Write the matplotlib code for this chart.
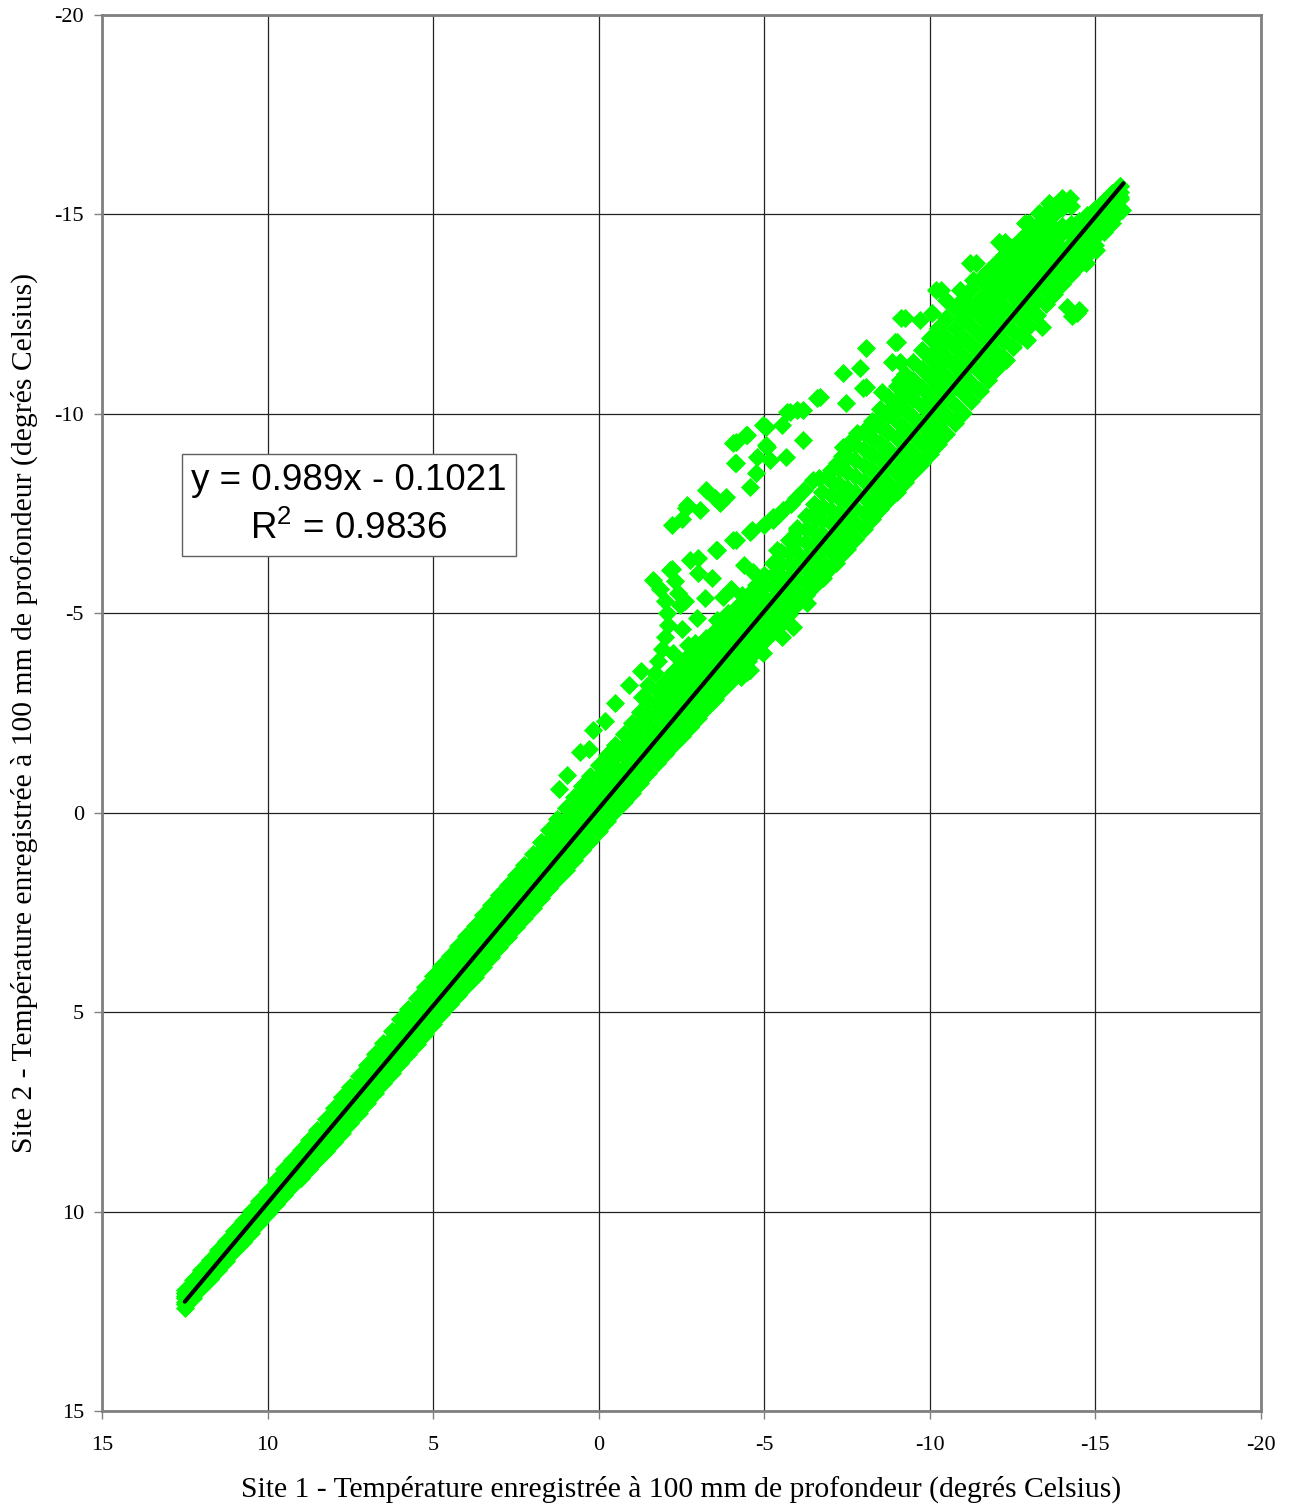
import matplotlib

matplotlib.use("Agg")
import matplotlib.pyplot as plt

plt.rcParams['font.family'] = ['Liberation Serif', 'DejaVu Serif']
plt.rcParams['mathtext.fontset'] = 'custom'
plt.rcParams['mathtext.rm'] = 'Liberation Sans'
plt.rcParams['mathtext.it'] = 'Liberation Sans:italic'

# Scatter: dense band read column by column, on two staggered x grids,
# seven rows across the band (k0 = upper edge ... k6 = lower edge)
xa = [12.5, 12.0, 11.5, 11.0, 10.5, 10.0, 9.5, 9.0, 8.5, 8.0, 7.5, 7.0, 6.5, 6.0,
      5.5, 5.0, 4.5, 4.0, 3.5, 3.0, 2.5, 2.0, 1.5, 1.0, 0.5, 0.0, -0.5, -1.0,
      -1.5, -2.0, -2.5, -3.0, -3.5, -4.0, -4.5, -5.0, -5.5, -6.0, -6.5, -7.0,
      -7.5, -8.0, -8.5, -9.0, -9.5, -10.0, -10.5, -11.0, -11.5, -12.0, -12.5,
      -13.0, -13.5, -14.0, -14.5, -15.0, -15.5]
ya_k0 = [11.96, 11.47, 10.97, 10.48, 9.98, 9.49, 8.94, 8.45, 7.95, 7.41, 6.87, 6.32,
         5.78, 5.18, 4.64, 4.09, 3.60, 3.10, 2.56, 2.06, 1.57, 1.03, 0.43, -0.11,
         -0.66, -1.20, -1.70, -2.24, -2.79, -3.28, -3.77, -4.17, -4.56, -4.96,
         -5.45, -5.95, -6.54, -7.14, -7.73, -8.32, -8.92, -9.51, -10.11, -10.70,
         -11.30, -11.89, -12.39, -12.88, -13.38, -13.77, -14.17, -14.56, -14.85,
         -15.15, -14.84, -15.14, -15.53]
ya_k1 = [12.03, 11.55, 11.05, 10.56, 10.08, 9.58, 9.07, 8.57, 8.07, 7.55, 7.02, 6.48,
         5.94, 5.38, 4.83, 4.31, 3.80, 3.30, 2.79, 2.29, 1.78, 1.24, 0.69, 0.15,
         -0.39, -0.92, -1.43, -1.95, -2.48, -2.98, -3.45, -3.88, -4.28, -4.71,
         -5.19, -5.69, -6.24, -6.82, -7.39, -7.97, -8.54, -9.12, -9.69, -10.27,
         -10.84, -11.40, -11.91, -12.41, -12.89, -13.33, -13.75, -14.15, -14.51,
         -14.71, -14.79, -15.01, -15.45]
ya_k2 = [12.11, 11.62, 11.14, 10.65, 10.16, 9.67, 9.16, 8.68, 8.20, 7.69, 7.17, 6.64,
         6.11, 5.55, 5.02, 4.49, 4.00, 3.52, 2.99, 2.49, 2.00, 1.48, 0.91, 0.41,
         -0.13, -0.65, -1.15, -1.66, -2.19, -2.68, -3.15, -3.57, -3.99, -4.41,
         -4.90, -5.40, -5.94, -6.51, -7.05, -7.60, -8.15, -8.71, -9.28, -9.82,
         -10.38, -10.92, -11.42, -11.93, -12.45, -12.89, -13.34, -13.78, -14.15,
         -14.52, -14.47, -14.84, -15.31]
ya_k3 = [12.18, 11.70, 11.22, 10.73, 10.26, 9.77, 9.28, 8.80, 8.33, 7.83, 7.32, 6.80,
         6.27, 5.74, 5.21, 4.70, 4.21, 3.72, 3.22, 2.72, 2.22, 1.70, 1.17, 0.66,
         0.15, -0.37, -0.88, -1.38, -1.88, -2.38, -2.84, -3.28, -3.71, -4.16,
         -4.64, -5.13, -5.65, -6.18, -6.71, -7.25, -7.78, -8.32, -8.86, -9.39,
         -9.92, -10.44, -10.94, -11.46, -11.97, -12.45, -12.92, -13.38, -13.80,
         -14.13, -14.37, -14.72, -15.19]
ya_k4 = [12.26, 11.77, 11.30, 10.81, 10.35, 9.86, 9.38, 8.92, 8.45, 7.98, 7.47, 6.95,
         6.45, 5.91, 5.41, 4.89, 4.40, 3.93, 3.43, 2.93, 2.44, 1.93, 1.40, 0.92,
         0.41, -0.10, -0.60, -1.07, -1.59, -2.08, -2.54, -2.97, -3.43, -3.86,
         -4.35, -4.85, -5.34, -5.87, -6.36, -6.89, -7.39, -7.91, -8.44, -8.93,
         -9.47, -9.96, -10.46, -10.98, -11.51, -12.00, -12.50, -12.99, -13.45,
         -13.88, -14.11, -14.54, -15.10]
ya_k5 = [12.32, 11.86, 11.38, 10.91, 10.44, 9.96, 9.49, 9.03, 8.58, 8.11, 7.62, 7.12,
         6.61, 6.10, 5.59, 5.10, 4.61, 4.14, 3.65, 3.15, 2.65, 2.15, 1.66, 1.17,
         0.68, 0.18, -0.32, -0.80, -1.29, -1.77, -2.23, -2.68, -3.14, -3.60,
         -4.09, -4.57, -5.05, -5.54, -6.03, -6.53, -7.02, -7.52, -8.02, -8.51,
         -9.00, -9.49, -9.98, -10.51, -11.04, -11.56, -12.08, -12.60, -13.10,
         -13.54, -13.96, -14.42, -14.92]
ya_k6 = [12.41, 11.92, 11.47, 10.98, 10.53, 10.04, 9.59, 9.15, 8.70, 8.26, 7.77, 7.27,
         6.78, 6.28, 5.79, 5.29, 4.80, 4.35, 3.86, 3.36, 2.87, 2.38, 1.88, 1.44,
         0.94, 0.45, -0.05, -0.49, -0.99, -1.48, -1.92, -2.37, -2.86, -3.31,
         -3.80, -4.30, -4.74, -5.24, -5.68, -6.17, -6.62, -7.11, -7.61, -8.05,
         -8.55, -8.99, -9.49, -10.03, -10.58, -11.12, -11.67, -12.21, -12.75,
         -13.25, -13.74, -14.24, -14.88]

xb = [12.25, 11.75, 11.25, 10.75, 10.25, 9.75, 9.25, 8.75, 8.25, 7.75, 7.25, 6.75,
      6.25, 5.75, 5.25, 4.75, 4.25, 3.75, 3.25, 2.75, 2.25, 1.75, 1.25, 0.75, 0.25,
      -0.25, -0.75, -1.25, -1.75, -2.25, -2.75, -3.25, -3.75, -4.25, -4.75, -5.25,
      -5.75, -6.25, -6.75, -7.25, -7.75, -8.25, -8.75, -9.25, -9.75, -10.25,
      -10.75, -11.25, -11.75, -12.25, -12.75, -13.25, -13.75, -14.25, -14.75,
      -15.25, -15.75]
yb_k0 = [11.72, 11.22, 10.73, 10.23, 9.74, 9.22, 8.70, 8.20, 7.68, 7.14, 6.60, 6.05,
         5.48, 4.91, 4.37, 3.85, 3.35, 2.83, 2.31, 1.82, 1.30, 0.73, 0.16, -0.39,
         -0.93, -1.45, -1.97, -2.52, -3.04, -3.53, -3.97, -4.37, -4.76, -5.21,
         -5.70, -6.25, -6.84, -7.44, -8.03, -8.62, -9.22, -9.81, -10.41, -11.00,
         -11.60, -12.14, -12.64, -13.13, -13.58, -13.97, -14.37, -14.71, -15.00,
         -15.20, -14.99, -15.34, -15.70]
yb_k1 = [11.79, 11.30, 10.80, 10.32, 9.83, 9.32, 8.81, 8.32, 7.82, 7.28, 6.75, 6.21,
         5.66, 5.09, 4.56, 4.05, 3.55, 3.05, 2.53, 2.04, 1.52, 0.96, 0.41, -0.12,
         -0.65, -1.18, -1.68, -2.22, -2.73, -3.23, -3.67, -4.08, -4.48, -4.94,
         -5.43, -5.95, -6.53, -7.10, -7.68, -8.25, -8.83, -9.40, -9.98, -10.55,
         -11.13, -11.66, -12.15, -12.66, -13.12, -13.54, -13.96, -14.34, -14.67,
         -14.75, -14.82, -15.20, -15.70]
yb_k2 = [11.87, 11.38, 10.90, 10.41, 9.92, 9.42, 8.92, 8.44, 7.95, 7.43, 6.91, 6.38,
         5.83, 5.29, 4.76, 4.25, 3.76, 3.26, 2.74, 2.25, 1.74, 1.20, 0.66, 0.14,
         -0.39, -0.90, -1.41, -1.93, -2.44, -2.92, -3.36, -3.78, -4.20, -4.66,
         -5.15, -5.67, -6.23, -6.78, -7.33, -7.88, -8.43, -9.00, -9.55, -10.10,
         -10.65, -11.17, -11.68, -12.19, -12.67, -13.12, -13.56, -13.97, -14.34,
         -14.50, -14.66, -15.08, -15.55]
yb_k3 = [11.94, 11.46, 10.97, 10.49, 10.02, 9.52, 9.04, 8.56, 8.09, 7.57, 7.06, 6.53,
         6.01, 5.47, 4.95, 4.45, 3.96, 3.47, 2.96, 2.47, 1.96, 1.43, 0.91, 0.40,
         -0.11, -0.63, -1.12, -1.63, -2.13, -2.62, -3.06, -3.50, -3.92, -4.39,
         -4.88, -5.38, -5.92, -6.44, -6.98, -7.51, -8.05, -8.59, -9.12, -9.65,
         -10.19, -10.69, -11.19, -11.72, -12.21, -12.68, -13.15, -13.60, -14.00,
         -14.25, -14.49, -14.94, -15.43]
yb_k4 = [12.02, 11.54, 11.06, 10.58, 10.11, 9.62, 9.15, 8.69, 8.22, 7.73, 7.21, 6.70,
         6.18, 5.66, 5.15, 4.65, 4.17, 3.68, 3.18, 2.69, 2.19, 1.67, 1.16, 0.67,
         0.16, -0.35, -0.84, -1.33, -1.84, -2.31, -2.76, -3.20, -3.65, -4.11,
         -4.60, -5.10, -5.61, -6.12, -6.63, -7.14, -7.65, -8.18, -8.69, -9.20,
         -9.72, -10.21, -10.72, -11.25, -11.76, -12.25, -12.75, -13.22, -13.67,
         -14.00, -14.33, -14.82, -15.38]
yb_k5 = [12.09, 11.62, 11.14, 10.67, 10.20, 9.72, 9.26, 8.80, 8.35, 7.86, 7.37, 6.86,
         6.36, 5.84, 5.34, 4.85, 4.37, 3.90, 3.39, 2.90, 2.40, 1.90, 1.41, 0.93,
         0.43, -0.08, -0.55, -1.04, -1.53, -2.01, -2.45, -2.91, -3.36, -3.84,
         -4.33, -4.80, -5.30, -5.78, -6.28, -6.77, -7.26, -7.77, -8.26, -8.75,
         -9.25, -9.72, -10.23, -10.78, -11.30, -11.82, -12.34, -12.86, -13.33,
         -13.75, -14.16, -14.68, -15.16]
yb_k6 = [12.17, 11.70, 11.23, 10.76, 10.29, 9.82, 9.37, 8.93, 8.48, 8.02, 7.52, 7.03,
         6.53, 6.04, 5.54, 5.05, 4.58, 4.11, 3.61, 3.12, 2.63, 2.13, 1.66, 1.19,
         0.70, 0.20, -0.27, -0.74, -1.24, -1.70, -2.15, -2.62, -3.09, -3.56,
         -4.05, -4.52, -4.99, -5.46, -5.93, -6.40, -6.87, -7.36, -7.83, -8.30,
         -8.77, -9.24, -9.76, -10.31, -10.85, -11.40, -11.94, -12.48, -13.00,
         -13.50, -13.99, -14.56, -15.12]

# Scattered points off the main band (upper branches, bump, lower branch)
out_x = [-2.2, -2.65, -3.25, -3.85, -4.15, -4.15, -4.46, -5.06, -5.06, -5.77, -6.16,
         -6.67, -7.48, -8.08, -4.76, -4.56, -3.65, -3.05, -2.5, -3.5,
         -9.14, -8.94, -8.08, -8.87, -7.37, -7.88, -7.97, -8.57, -9.18, -9.39, -6.58,
         -5.98, -5.68, -4.95, -4.47, -4.05, -4.11, -2.66, -5.52, -6.16, -7.37, -5.07,
         -4.77, -5.16, -5.67,
         -10.2, -11.2, -12.1, -12.86, -13.3, -13.6, -14.0, -11.7, -11.3, -10.9,
         -10.5, -10.08, -9.7, -14.22, -13.82, -13.52, -13.0, -12.26, -11.4, -10.35,
         -9.24, -9.0, -9.1, -9.1, -9.5,
         -1.63, -2.14, -2.75, -3.55, -4.16, -4.56, -5.25, -5.56, -5.97, -6.46, -6.88,
         -7.19, -7.49, -7.79, -8.27, -8.48, -8.88, -4.62, -5.25, -5.98, -6.46, -4.05,
         -2.99, -3.56, -3.41, -4.65, -3.2, -3.74, -2.96, -3.56, -2.9, -4.32, -5.37,
         -5.0, -5.4, -5.8, -6.2, -6.65, -7.0, -7.35, -7.65, -8.05, -8.7, -9.1, -9.4,
         -1.85, -2.0, -2.05, -2.1, -2.0, -1.9, -1.8, -1.7, -2.2, -2.3, -2.4, -2.45,
         -1.5, -1.3, -2.6, -2.5, -2.7, -3.9, -4.0, -4.4, -3.0, -2.25, -2.35,
         -1.29, -0.48, 0.18, 0.57, 0.96, 1.2, 0.3, -0.2, -0.9,
         -4.47, -4.56, -4.3, -4.95, -5.55, -5.86, -6.28, -6.76, -7.18,
         -14.43, -14.13, -13.4, -12.92, -12.3, -11.8, -14.73, -15.03, -15.8, -15.5,
         -14.3, -14.5]
out_y = [-7.21, -7.64, -8.09, -7.92, -8.77, -9.3, -9.47, -9.68, -9.22, -10.05, -10.1,
         -10.43, -10.27, -10.68, -8.52, -8.17, -7.76, -7.6, -7.35, -7.9,
         -12.4, -11.81, -11.65, -11.31, -11.02, -11.15, -10.65, -10.55, -10.52, -10.85,
         -10.4, -10.1, -10.05, -9.72, -9.47, -9.27, -8.77, -7.71, -9.72, -9.34, -9.17,
         -9.17, -8.92, -8.84, -8.92,
         -13.1, -13.78, -14.3, -14.78, -15.04, -15.29, -15.41, -13.48, -13.35, -13.1,
         -12.85, -12.53, -12.35, -15.41, -15.24, -15.04, -14.78, -14.31, -13.78, -13.1,
         -12.4, -11.8, -11.3, -10.85, -10.55,
         -5.83, -6.08, -6.33, -6.59, -6.84, -7.04, -7.34, -7.59, -7.89, -8.34, -8.42,
         -8.77, -9.17, -9.52, -9.67, -9.92, -10.17, -7.09, -7.41, -7.09, -7.51, -6.84,
         -6.39, -6.59, -5.88, -6.04, -5.38, -5.41, -4.88, -4.83, -4.25, -5.46, -6.59,
         -7.2, -7.45, -7.75, -8.1, -8.4, -8.6, -8.95, -9.35, -9.6, -10.05, -10.3, -10.5,
         -5.6, -5.3, -5.0, -4.7, -4.4, -4.1, -3.8, -3.5, -6.1, -5.8, -5.5, -5.2,
         -3.2, -2.9, -5.3, -4.6, -4.2, -5.0, -5.6, -6.2, -6.0, -4.0, -3.6,
         -3.54, -2.75, -2.07, -1.52, -0.95, -0.6, -1.6, -2.3, -3.2,
         -3.53, -3.58, -3.4, -4.0, -4.4, -4.66, -5.26, -5.88, -6.26,
         -12.53, -12.68, -12.18, -11.85, -11.35, -11.02, -13.78, -14.1, -15.1, -14.78,
         -12.45, -12.6]

# Linear trend line end points and its label
trend_x = [12.5, -15.85]
trend_y = [12.26, -15.78]
trend_label = "y = 0.989x - 0.1021\nR$^{2}$ = 0.9836"

ticks = [15, 10, 5, 0, -5, -10, -15, -20]
tick_labels = ["15", "10", "5", "0", "-5", "-10", "-15", "-20"]

fig = plt.figure(figsize=(12.9, 15.06), dpi=100)
ax = fig.add_axes([0.0791, 0.0631, 0.8984, 0.9270])

green = "#00ff00"
mk = dict(marker="D", s=95, color=green, linewidths=0, zorder=3)
for ys in [ya_k0, ya_k1, ya_k2, ya_k3, ya_k4, ya_k5, ya_k6]:
    ax.scatter(xa, ys, **mk)
for ys in [yb_k0, yb_k1, yb_k2, yb_k3, yb_k4, yb_k5, yb_k6]:
    ax.scatter(xb, ys, **mk)
ax.scatter(out_x, out_y, **mk)

ax.plot(trend_x, trend_y, color="black", linewidth=3, solid_capstyle="round", zorder=4)

ax.set_xlim(15, -20)
ax.set_ylim(15, -20)
ax.set_xticks(ticks)
ax.set_xticklabels(tick_labels)
ax.set_yticks(ticks)
ax.set_yticklabels(tick_labels)
ax.tick_params(direction="out", length=6, width=1, color="#808080", labelsize=16, pad=7)
ax.tick_params(axis="x", pad=12)

ax.grid(True, color="#222222", linewidth=0.9)
ax.set_axisbelow(True)
for s in ax.spines.values():
    s.set_color("#808080")
    s.set_linewidth(2)

ax.set_xlabel("Site 1 - Température enregistrée à 100 mm de profondeur (degrés Celsius)",
              fontsize=21.3, labelpad=15)
ax.set_ylabel("Site 2 - Température enregistrée à 100 mm de profondeur (degrés Celsius)",
              fontsize=21.3, labelpad=12)

ax.text(7.55, -7.72, trend_label, ha="center", va="center", multialignment="center",
        fontsize=26.5, family=["Liberation Sans", "DejaVu Sans"], linespacing=1.45, zorder=5,
        bbox=dict(boxstyle="square,pad=0.25", facecolor="white", edgecolor="#606060", linewidth=1))

fig.savefig("out.png", dpi=100)
